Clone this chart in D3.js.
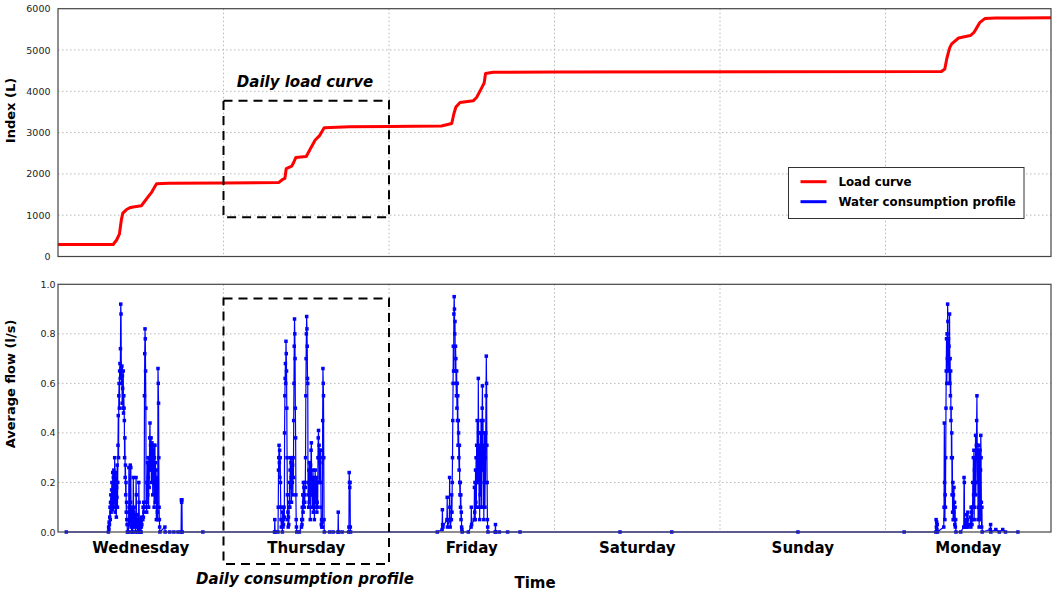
<!DOCTYPE html>
<html>
<head>
<meta charset="utf-8">
<script src="https://cdn.jsdelivr.net/npm/d3@7"></script>
<style>
body { margin: 0; background: #fff; }
text { font-family: "DejaVu Sans", sans-serif; }
</style>
</head>
<body>
<div id="chart"></div>
<script>
// days shown on the time axis
const dayNames = ["Wednesday", "Thursday", "Friday", "Saturday", "Sunday", "Monday"];
const indexTicks = [0, 1000, 2000, 3000, 4000, 5000, 6000];
const flowTicks = [0.0, 0.2, 0.4, 0.6, 0.8, 1.0];

// load curve: [hour since Wednesday 00:00, index in litres]
const loadCurve = [
    [0, 290], [8.0, 290], [8.5, 400], [8.9, 540], [9.2, 900], [9.4, 1050], [9.9, 1130], [10.4, 1180],
    [10.9, 1200], [12.1, 1230], [12.5, 1320], [13.0, 1430], [13.6, 1560], [14.0, 1680], [14.3, 1760],
    [16, 1775], [24, 1780], [32.0, 1790], [32.6, 1870], [32.9, 1890], [33.1, 2130], [33.9, 2190],
    [34.1, 2250], [34.5, 2400], [36.0, 2420], [36.5, 2580], [37.3, 2820], [37.9, 2920], [38.6, 3120],
    [42.3, 3140], [48, 3150], [55.6, 3160], [57.1, 3220], [57.4, 3450], [57.7, 3620], [58.3, 3730],
    [60.2, 3770], [60.7, 3850], [61.4, 4070], [61.8, 4200], [62.0, 4430], [63.1, 4460], [72, 4465],
    [128.1, 4480], [128.6, 4540], [128.9, 4800], [129.3, 5050], [129.6, 5150], [130.6, 5290],
    [132.3, 5350], [132.8, 5420], [133.2, 5530], [133.7, 5670], [134.4, 5760], [136, 5775], [144, 5780]
];

// average flow (l/s): bursts of readings [start hour of the day, readings every flowStep hours]
const flowStep = 0.04;
const wedFlow = [
    [1.2, [0]],
    [7.3, [0, .02, .01, .04, .03, .06, .1, .05, .12, .15, .08, .11, .17, .2, .09, .13, .24,
           .15, .22, .1, .25, .18, .12, .3, .2, .08, .16, .24, .11, .06, .18, .14, .27, .1, .2,
           .35, .47, .3, .55, .6, .5, .65, .68, .62, .74, .92, .88, .66, .6, .67, .52, .63, .58,
           .5, .65, .48, .55, .5, .45, .3, .38, .22, .27, .15, .2, .08, .12, .05, .03, 0]],
    [10.2, [0, .03, .26, .1, .05, .08, .04, .27, .12, .26, .02, .05, 0, .03, .1, .02, 0, .05, .22,
            .08, .04, .1, .03, .07, .02, .05, 0, .03, .22, .15, .04, .02, .07, .03, 0, .02, .05, .01,
            .2, .12, .03, 0, .02, .05, .03, 0, 0, .02, .06, .03]],
    [12.3, [.05, .1, .06, .12, .08, .1, .55, .72, .82, .78, .65, .5, .12, .1, .08, .2, .12, .28,
            .15, .3, .22, .1, .25, .18, .3, .38, .44, .25, .35, .3, .38, .2, .33, .36, .28, .35,
            .15, .3, .33, .22, .35, .1, .3, .25, .35, .12, .28, .2, .25, .05, .22, .12, .18, .08,
            .05, .66, .6, .52, .3, .1, .05, .02, 0]],
    [15.5, [.02, 0]], [16.2, [0]], [16.8, [0]], [17.4, [0]],
    [17.85, [0, .13, .12, .13, 0]], [21.0, [0]]
];
const thuFlow = [
    [7.4, [0, .05, 0]],
    [7.9, [0, .1, .25, .3, .35, .28, .33, .22, .3, .2, .1, .05, .02]],
    [8.5, [.05, 0, .08, .02, .1, .03, .05, .1, .06, .4, .55, .62, .68, .6, .77, .72, .65, .5, .3,
           .15, .05, .08, .02, .06, .03, .1, .12, .2, .1, .25, .3, .18, .28, .22, .12, .3, .25, .2,
           .27, .15, .3, .22, .45, .6, .75, .86, .8, .7, .5, .38, .15, .05, .02, 0]],
    [11.0, [0]],
    [11.3, [.02, .05, .03, .1, .05, .15, .08, .2, .12, .18, .1, .15, .12, .2, .18, .3, .55, .7, .8,
            .87, .82, .75, .62, .6, .15, .2, .1, .25, .12, .28, .18, .2, .05, .27, .15, .33, .36, .2,
            .22, .1, .2, .15, .25, .08, .18, .12, .22, .05, .1, .18, .25, .12, .2, .15, .1, .22, .08,
            .12, .2, .1, .3, .38, .41, .3, .35, .2, .33, .28, .3, .2, .33, .1, .03, .05, .02, .04,
            .02, .45, .66, .6, .55, .3, .05, 0]],
    [15.4, [0]], [15.9, [0]], [16.6, [0, .08, 0]], [17.2, [0]],
    [18.15, [0, .02, .24, .2, .18, .2, .02, 0]]
];
const friFlow = [
    [7.0, [0]],
    [7.7, [.01, .09, .03, .02]],
    [8.4, [.05, .14, .02]],
    [8.75, [.05, .22, .1, .02]],
    [9.05, [.05, .15, .08, .2, .3, .45, .6, .75, .65, .88, .95, .9, .8, .85, .65, .75, .7, .6, .55,
            .65, .5, .6, .45, .55, .35, .45, .4, .3, .25, .35, .2, .15, .2, .1, .15, .05, .08, .02,
            .01, 0]],
    [11.5, [0]],
    [11.9, [.02, .1, .03]],
    [12.35, [.05, .18, .08, .2, .05, .25, .12, .3, .1, .35, .2, .45, .25, .3, .2, .62, .4, .3, .1,
             .35, .05, .3, .15, .4, .2, .45, .1, .3, .25, .5, .59, .3, .45, .1, .35, .05, .3, .25,
             .4, .1, .3, .2, .4, .55, .71, .6, .35, .2, .05, .02, 0]],
    [15.4, [0, .03, 0]], [16.0, [0]], [17.2, [0]], [19.0, [0]]
];
const satFlow = [[9.5, [0]], [17.0, [0]]];
const sunFlow = [[11.3, [0]]];
const monFlow = [
    [2.7, [0]],
    [7.3, [0, .05, .02, .04, .01, .03, 0]],
    [8.45, [.02, .1, .44, .2, .05, .15, .1, .3, .5, .65, .78, .6, .8, .7, .92, .85, .65, .78, .7,
            .75, .6, .88, .6, .7, .55, .65, .45, .5, .3, .4, .15, .3, .08, .2, .05, .15, .08, .18,
            .05, .12, .03, .1, .02, .05, 0]],
    [10.9, [0]],
    [11.35, [.02, .22, .2, .02]],
    [11.7, [.05, .02, .07, .03, .05, .02, .08, .03]],
    [12.3, [.03, .06, .02, .1, .05, .08, .03, .1, .05, .2, .1, .3, .15, .33, .05, .25, .1, .3, .2,
            .39, .15, .3, .35, .45, .55, .35, .2, .33, .05, .3, .1, .35, .02, .3, .1, .33, .05, .25,
            .39, .3, .12, .02, .1, 0]],
    [15.2, [.01, .03, 0]], [16.0, [.01]], [16.5, [0]], [17.0, [.01]], [17.4, [0]], [19.2, [0]]
];

const flowPerDay = [wedFlow, thuFlow, friFlow, satFlow, sunFlow, monFlow];

const width = 1052, height = 592;
const left = 58, right = 1051;
const top1 = 8.7, bottom1 = 256.5;
const top2 = 284.3, bottom2 = 532;

const svg = d3.select("#chart")
              .append("svg")
              .attr("width", width)
              .attr("height", height);

const x = d3.scaleLinear().domain([0, 144]).range([left, right]);
const yIndex = d3.scaleLinear().domain([0, 6000]).range([bottom1, top1]);
const yFlow = d3.scaleLinear().domain([0, 1]).range([bottom2, top2]);
const dayBounds = d3.range(1, dayNames.length).map(d => d * 24);

function drawGrid(y, ticks, y0, y1) {
    const g = svg.append("g").attr("class", "grid");
    g.selectAll("line.h")
     .data(ticks.filter(t => y(t) > y1 + 1 && y(t) < y0 - 1))
     .enter()
     .append("line")
     .attr("x1", left).attr("x2", right)
     .attr("y1", d => y(d)).attr("y2", d => y(d))
     .attr("stroke", "#b8b8b8")
     .attr("stroke-dasharray", "1.5,2.5");
    g.selectAll("line.v")
     .data(dayBounds)
     .enter()
     .append("line")
     .attr("x1", d => x(d)).attr("x2", d => x(d))
     .attr("y1", y1).attr("y2", y0)
     .attr("stroke", "#b8b8b8")
     .attr("stroke-dasharray", "1.5,2.5");
}

function drawYAxis(y, ticks, fmt, tx) {
    const axis = svg.append("g")
                    .attr("transform", "translate(" + tx + ",0)")
                    .call(d3.axisLeft(y).tickValues(ticks).tickFormat(fmt).tickSize(0).tickPadding(0));
    axis.select(".domain").remove();
    axis.selectAll("text")
        .style("font-family", "DejaVu Sans")
        .style("font-size", "9.5px")
        .attr("fill", "#222");
}

function drawFrame(y0, y1) {
    svg.append("rect")
       .attr("x", left).attr("y", y1)
       .attr("width", right - left).attr("height", y0 - y1)
       .attr("fill", "none")
       .attr("stroke", "#444")
       .attr("stroke-width", 1.2);
}

// ---- top panel: load curve
drawGrid(yIndex, indexTicks, bottom1, top1);
drawYAxis(yIndex, indexTicks, d3.format("d"), 50.5);

svg.append("path")
   .datum(loadCurve)
   .attr("d", d3.line().x(d => x(d[0])).y(d => yIndex(d[1])))
   .attr("fill", "none")
   .attr("stroke", "#ff0000")
   .attr("stroke-width", 3)
   .attr("stroke-linejoin", "round");

drawFrame(bottom1, top1);

// ---- bottom panel: consumption profile
drawGrid(yFlow, flowTicks, bottom2, top2);
drawYAxis(yFlow, flowTicks, d3.format(".1f"), 55.5);

const flow = [];
flowPerDay.forEach(function (day, i) {
    day.forEach(function (burst) {
        burst[1].forEach(function (v, j) {
            flow.push([i * 24 + burst[0] + j * flowStep, v]);
        });
    });
});

svg.append("path")
   .datum(flow)
   .attr("d", d3.line().x(d => x(d[0])).y(d => yFlow(d[1])))
   .attr("fill", "none")
   .attr("stroke", "#0000ff")
   .attr("stroke-width", 1.2);

svg.append("g")
   .selectAll("rect")
   .data(flow)
   .enter()
   .append("rect")
   .attr("x", d => x(d[0]) - 1.75)
   .attr("y", d => yFlow(d[1]) - 1.75)
   .attr("width", 3.5)
   .attr("height", 3.5)
   .attr("fill", "#0000ff");

drawFrame(bottom2, top2);

// day labels
svg.append("g")
   .selectAll("text")
   .data(dayNames)
   .enter()
   .append("text")
   .attr("x", (d, i) => x(i * 24 + 12))
   .attr("y", 553)
   .attr("text-anchor", "middle")
   .style("font-size", "15px")
   .style("font-weight", "bold")
   .text(d => d);

svg.append("text")
   .attr("x", 535).attr("y", 588)
   .attr("text-anchor", "middle")
   .style("font-size", "15px")
   .style("font-weight", "bold")
   .text("Time");

svg.append("text")
   .attr("transform", "translate(14.5,110.5)rotate(-90)")
   .attr("text-anchor", "middle")
   .style("font-size", "13px")
   .style("font-weight", "bold")
   .text("Index (L)");

svg.append("text")
   .attr("transform", "translate(14.5,384)rotate(-90)")
   .attr("text-anchor", "middle")
   .style("font-size", "13px")
   .style("font-weight", "bold")
   .text("Average flow (l/s)");

// dashed boxes around Thursday
svg.append("rect")
   .attr("x", x(24)).attr("y", 100.7)
   .attr("width", x(48) - x(24)).attr("height", 116.6)
   .attr("fill", "none")
   .attr("stroke", "#000")
   .attr("stroke-width", 2)
   .attr("stroke-dasharray", "9,6");
svg.append("text")
   .attr("x", 305).attr("y", 87)
   .attr("text-anchor", "middle")
   .style("font-size", "15px")
   .style("font-weight", "bold")
   .style("font-style", "italic")
   .text("Daily load curve");

svg.append("rect")
   .attr("x", x(24)).attr("y", 298.5)
   .attr("width", x(48) - x(24)).attr("height", 265.5)
   .attr("fill", "none")
   .attr("stroke", "#000")
   .attr("stroke-width", 2)
   .attr("stroke-dasharray", "9,6");
svg.append("text")
   .attr("x", 305).attr("y", 584)
   .attr("text-anchor", "middle")
   .style("font-size", "15px")
   .style("font-weight", "bold")
   .style("font-style", "italic")
   .text("Daily consumption profile");

// legend
const legend = svg.append("g").attr("transform", "translate(788.5,167.5)");
legend.append("rect")
      .attr("width", 235.5).attr("height", 51)
      .attr("fill", "#fff")
      .attr("stroke", "#333")
      .attr("stroke-width", 1);
const legendItems = [["Load curve", "#ff0000"], ["Water consumption profile", "#0000ff"]];
legendItems.forEach(function (item, i) {
    legend.append("line")
          .attr("x1", 12).attr("x2", 38)
          .attr("y1", 14.2 + i * 20).attr("y2", 14.2 + i * 20)
          .attr("stroke", item[1])
          .attr("stroke-width", 3);
    legend.append("text")
          .attr("x", 50).attr("y", 18.5 + i * 20)
          .style("font-size", "11.8px")
          .style("font-weight", "bold")
          .text(item[0]);
});
</script>
</body>
</html>
